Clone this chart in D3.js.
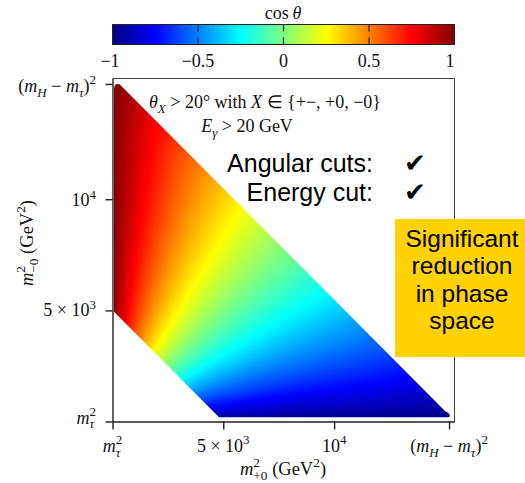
<!DOCTYPE html>
<html>
<head>
<meta charset="utf-8">
<script src="https://cdn.jsdelivr.net/npm/d3@7"></script>
<style>
  body { margin: 0; background: #fff; }
  svg { display: block; }
</style>
</head>
<body>
<svg id="chart"></svg>
<script>
// masses (GeV)
const mH = 125.0
const mTau = 1.777
const mTau2 = mTau * mTau

// axis ticks (GeV^2) and labels ('|' toggles italic, _ and ^ for scripts)
const xTickValues = [mTau2, 5000, 10000, (mH - mTau) ** 2]
const xTickLabels = ['|m|_{|τ|}^{2}', '5\u2005×\u200510^{3}', '10^{4}', '(|m|_{|H|}\u2005−\u2005|m|_{|τ|})^{2}']
const yTickValues = [mTau2, 5000, 10000, (mH - mTau) ** 2]
const yTickLabels = ['|m|_{|τ|}^{2}', '5\u2005×\u200510^{3}', '10^{4}', '(|m|_{|H|}\u2005−\u2005|m|_{|τ|})^{2}']

// colour bar ticks
const cbTickValues = [-1, -0.5, 0, 0.5, 1]
const cbTickLabels = ['−1', '−0.5', '0', '0.5', '1']

// allowed phase-space region after cuts (GeV^2)
const regionX = [70, 70, 100, 190, 320, 7750, 15000, 15150, 15220, 15210, 15120, 4810]
const regionY = [4940, 14950, 15120, 15184, 15170, 7740, 480, 380, 290, 220, 195, 195]

// jet colour map
const jetStops = [-1, -0.75, -0.25, 0.25, 0.75, 1]
const jetColors = ['#000080', '#0000ff', '#00ffff', '#ffff00', '#ff0000', '#800000']

const width = 525
const height = 483
const plot = { left: 112.5, right: 454.5, top: 78.5, bottom: 421.5 }
const serif = '"Liberation Serif", "Times New Roman", serif'
const sans = '"Liberation Sans", Arial, Helvetica, sans-serif'

const svg = d3.select('#chart')
  .attr('width', width)
  .attr('height', height)

const xScale = d3.scaleLinear().domain([mTau2, 15430]).range([plot.left, plot.right])
const yScale = d3.scaleLinear().domain([mTau2, 15430]).range([plot.bottom, plot.top])
const color = d3.scaleLinear().domain(jetStops).range(jetColors).clamp(true)

// helicity angle of the tau pair
function cosTheta (x, y) {
  const d = x + y - 2 * mTau2
  const s = mH * mH + 2 * mTau2 - x - y
  const beta = Math.sqrt(Math.max(1e-9, 1 - 4 * mTau2 / s))
  return Math.max(-1, Math.min(1, (y - x) / (d * beta)))
}

// tiny tex-like text parser
function parseTex (str) {
  const items = []
  let italic = false
  let buf = ''
  let i = 0
  let lastWasScript = false
  const flush = () => {
    if (buf) {
      items.push({ level: 0, parts: [{ text: buf, italic }] })
      lastWasScript = false
    }
    buf = ''
  }
  while (i < str.length) {
    const c = str[i]
    if (c === '|') {
      flush(); italic = !italic; i++
    } else if (c === '_' || c === '^') {
      flush(); i++
      let g
      if (str[i] === '{') {
        const end = str.indexOf('}', i)
        g = str.slice(i + 1, end)
        i = end + 1
      } else {
        g = str[i]; i++
      }
      const parts = []
      let it = italic
      g.split('|').forEach((p, k) => {
        if (k > 0) it = !it
        if (p) parts.push({ text: p, italic: it })
      })
      items.push({ level: c === '_' ? -1 : 1, parts, stack: lastWasScript })
      lastWasScript = true
    } else {
      buf += c; i++
    }
  }
  flush()
  return items
}

function drawTex (textSel, str, size) {
  const items = parseTex(str)
  const small = size * 0.72
  const rise = { 0: 0, 1: -0.42 * size, '-1': 0.26 * size }
  let cur = 0
  let pendingDx = 0
  let prevWidth = 0
  items.forEach(item => {
    let dx = pendingDx
    pendingDx = 0
    if (item.stack) dx -= prevWidth
    const spans = item.parts.map((p, k) => {
      const t = textSel.append('tspan')
        .attr('font-size', item.level ? small : size)
        .attr('font-style', p.italic ? 'italic' : 'normal')
        .text(p.text)
      if (k === 0) {
        t.attr('dy', rise[item.level] - cur)
        if (dx) t.attr('dx', dx)
      }
      return t
    })
    cur = rise[item.level]
    const w = d3.sum(spans, s => s.node().getComputedTextLength())
    if (item.stack && w < prevWidth) pendingDx = prevWidth - w
    prevWidth = item.stack ? Math.max(w, prevWidth) : w
  })
  return textSel
}

// ---- colour field, clipped to the allowed region ----
const pw = Math.round(plot.right - plot.left)
const ph = Math.round(plot.bottom - plot.top)
const canvas = document.createElement('canvas')
canvas.width = pw
canvas.height = ph
const ctx = canvas.getContext('2d')
const img = ctx.createImageData(pw, ph)
for (let j = 0; j < ph; j++) {
  const yv = yScale.invert(plot.top + j + 0.5)
  for (let i = 0; i < pw; i++) {
    const xv = xScale.invert(plot.left + i + 0.5)
    const c = d3.rgb(color(cosTheta(xv, yv)))
    const k = (j * pw + i) * 4
    img.data[k] = c.r
    img.data[k + 1] = c.g
    img.data[k + 2] = c.b
    img.data[k + 3] = 255
  }
}
ctx.putImageData(img, 0, 0)

const region = d3.range(regionX.length).map(i => [regionX[i], regionY[i]])
const regionLine = d3.line()
  .x(d => xScale(d[0]))
  .y(d => yScale(d[1]))
  .curve(d3.curveLinearClosed)

const defs = svg.append('defs')
defs.append('clipPath')
  .attr('id', 'region-clip')
  .append('path')
  .attr('d', regionLine(region))

svg.append('image')
  .attr('x', plot.left)
  .attr('y', plot.top)
  .attr('width', pw)
  .attr('height', ph)
  .attr('preserveAspectRatio', 'none')
  .attr('href', canvas.toDataURL())
  .attr('clip-path', 'url(#region-clip)')

// ---- frame and axes ----
svg.append('path')
  .attr('d', `M${plot.left},${plot.top}H${plot.right}V${plot.bottom}`)
  .attr('fill', 'none')
  .attr('stroke', '#444')
  .attr('stroke-width', 1)

svg.append('g')
  .attr('class', 'x-axis')
  .attr('transform', `translate(0,${plot.bottom})`)
  .call(d3.axisBottom(xScale).tickValues(xTickValues).tickSize(8).tickSizeOuter(0).tickFormat(''))
svg.append('g')
  .attr('class', 'y-axis')
  .attr('transform', `translate(${plot.left},0)`)
  .call(d3.axisLeft(yScale).tickValues(yTickValues).tickSize(7).tickSizeOuter(0).tickFormat(''))
svg.selectAll('.x-axis path, .y-axis path, .x-axis line, .y-axis line')
  .attr('stroke', '#222')
  .attr('stroke-width', 1.4)

xTickValues.forEach((v, i) => {
  drawTex(svg.append('text')
    .attr('x', xScale(v))
    .attr('y', 452)
    .attr('text-anchor', 'middle')
    .attr('font-family', serif)
    .attr('fill', '#111'), xTickLabels[i], 18)
})

const yTickDy = [2, 6, 7, 8]
yTickValues.forEach((v, i) => {
  drawTex(svg.append('text')
    .attr('x', 96)
    .attr('y', yScale(v) + yTickDy[i])
    .attr('text-anchor', 'end')
    .attr('font-family', serif)
    .attr('fill', '#111'), yTickLabels[i], 18)
})

drawTex(svg.append('text')
  .attr('x', 283)
  .attr('y', 475)
  .attr('text-anchor', 'middle')
  .attr('font-family', serif)
  .attr('fill', '#111'), '|m|_{+0}^{2} (GeV^{2})', 18.5)

drawTex(svg.append('text')
  .attr('transform', 'translate(33,243) rotate(-90)')
  .attr('text-anchor', 'middle')
  .attr('font-family', serif)
  .attr('fill', '#111'), '|m|_{−0}^{2} (GeV^{2})', 18.5)

// ---- colour bar ----
const cbScale = d3.scaleLinear().domain([-1, 1]).range([plot.left, plot.right])
const cbTop = 24.5
const cbHeight = 20
const grad = defs.append('linearGradient')
  .attr('id', 'jet')
  .attr('x1', '0%').attr('x2', '100%')
grad.selectAll('stop')
  .data(jetStops)
  .enter().append('stop')
  .attr('offset', d => `${(d + 1) * 50}%`)
  .attr('stop-color', d => color(d))

svg.append('rect')
  .attr('x', cbScale(-1))
  .attr('y', cbTop)
  .attr('width', cbScale(1) - cbScale(-1))
  .attr('height', cbHeight)
  .attr('fill', 'url(#jet)')
  .attr('stroke', '#222')
  .attr('stroke-width', 1)

svg.selectAll('.cb-tick')
  .data(cbTickValues.slice(1, -1))
  .enter().append('path')
  .attr('class', 'cb-tick')
  .attr('d', d => `M${cbScale(d)},${cbTop}v7M${cbScale(d)},${cbTop + cbHeight}v-7`)
  .attr('stroke', '#222')
  .attr('stroke-width', 1.2)

cbTickValues.forEach((v, i) => {
  const last = i === cbTickValues.length - 1
  svg.append('text')
    .attr('x', cbScale(v) + (i === 0 ? -2.5 : 0))
    .attr('y', 67)
    .attr('text-anchor', last ? 'end' : 'middle')
    .attr('font-family', serif)
    .attr('font-size', 18)
    .attr('fill', '#111')
    .text(cbTickLabels[i])
})

drawTex(svg.append('text')
  .attr('x', 283)
  .attr('y', 19)
  .attr('text-anchor', 'middle')
  .attr('font-family', serif)
  .attr('fill', '#111'), 'cos\u2009|θ|', 18)

// ---- annotations ----
drawTex(svg.append('text')
  .attr('x', 265)
  .attr('y', 108)
  .attr('text-anchor', 'middle')
  .attr('font-family', serif)
  .attr('fill', '#111'), '|θ|_{|X|} > 20° with |X| ∈ {+−, +0, −0}', 18)

drawTex(svg.append('text')
  .attr('x', 247)
  .attr('y', 132)
  .attr('text-anchor', 'middle')
  .attr('font-family', serif)
  .attr('fill', '#111'), '|E|_{|γ|} > 20 GeV', 18)

const cutLabels = ['Angular cuts:', 'Energy cut:']
const cutBaselines = [172, 201]
cutLabels.forEach((t, i) => {
  svg.append('text')
    .attr('x', 373)
    .attr('y', cutBaselines[i])
    .attr('text-anchor', 'end')
    .attr('font-family', sans)
    .attr('font-size', 25)
    .attr('fill', '#000')
    .text(t)
  svg.append('text')
    .attr('x', 404)
    .attr('y', cutBaselines[i])
    .attr('font-family', '"DejaVu Sans", sans-serif')
    .attr('font-size', 26)
    .attr('fill', '#000')
    .text('✔')
})

// ---- highlighted note ----
svg.append('rect')
  .attr('x', 395)
  .attr('y', 219)
  .attr('width', 130)
  .attr('height', 138)
  .attr('fill', '#ffd200')

const noteLines = ['Significant', 'reduction', 'in phase', 'space']
noteLines.forEach((t, i) => {
  svg.append('text')
    .attr('x', 462)
    .attr('y', 247 + i * 27.3)
    .attr('text-anchor', 'middle')
    .attr('font-family', sans)
    .attr('font-size', 24.5)
    .attr('fill', '#000')
    .text(t)
})
</script>
</body>
</html>
